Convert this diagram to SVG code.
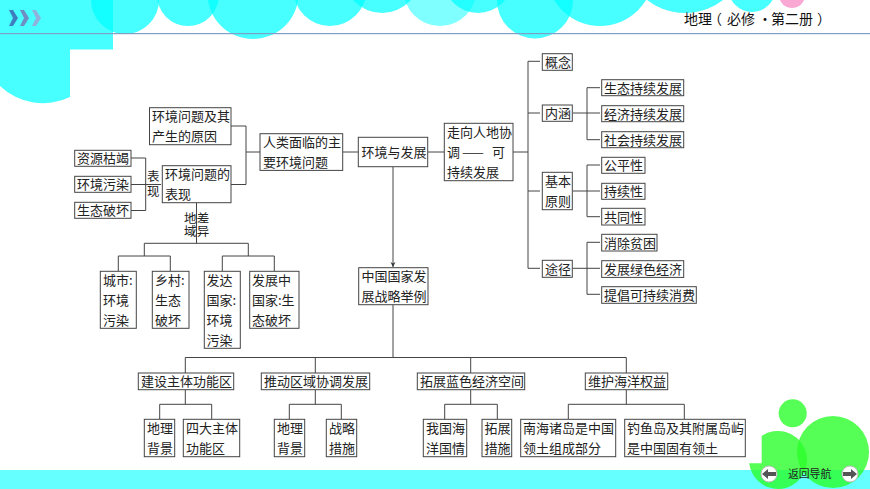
<svg xmlns="http://www.w3.org/2000/svg" width="870" height="489" viewBox="0 0 870 489">
<style>
text{font-family:"Noto Sans CJK SC","Noto Sans",sans-serif;font-size:13px;fill:#222}
.b{fill:#fff;stroke:#444;stroke-width:1}
.c{fill:none;stroke:#444;stroke-width:1}
.t{fill:#00ffff;fill-opacity:.72}
.g{fill:#2aff2a;fill-opacity:.8}
.nav{fill:#fff;stroke:#bbb;stroke-width:1}
.ar{fill:#555}
</style>
<defs>
<marker id="arrow" markerWidth="6" markerHeight="6" refX="5" refY="3" orient="auto" markerUnits="userSpaceOnUse"><path d="M0 0.5L5 3L0 5.5L1.5 3Z" fill="#333"/></marker>
</defs>
<rect width="870" height="489" fill="#fff"/>
<g id="background">
<path class="t" d="M0 0H113V49.5H70V97A62 62 0 0 1 0 86Z"/>
<circle class="t" cx="125" cy="0" r="34"/>
<circle class="t" cx="188" cy="-5" r="31"/>
<circle class="t" cx="253" cy="-6.500" r="45.500"/>
<circle class="t" cx="330" cy="-10.500" r="36.500"/>
<circle class="t" cx="382" cy="-26" r="39"/>
<circle class="t" cx="440" cy="-10.500" r="36.500" style="fill-opacity:.5"/>
<circle class="t" cx="478" cy="-21.500" r="34.500"/>
<circle class="t" cx="535" cy="0.500" r="38"/>
<circle class="t" cx="600" cy="-27.700" r="53.700"/>
<circle class="t" cx="685" cy="-49" r="62"/>
<circle class="t" cx="752" cy="-11.500" r="23.500"/>
<circle cx="792" cy="-5" r="13" fill="#f9a8d4"/>
<rect x="0" y="33" width="870" height="1.200" fill="#7f9fc6"/>
<path d="M9 10H13L18 18L13 26H9L13 18Z" fill="#3f7fc0"/>
<path d="M20 10H24L29 18L24 26H20L24 18Z" fill="#6f8fc4"/>
<path d="M32 10H36L41 18L36 26H32L36 18Z" fill="#8fb2dc"/>
<rect x="0" y="470" width="870" height="19" fill="#66ffff"/>
<circle class="g" cx="792.700" cy="413.300" r="14"/>
<circle class="g" cx="833" cy="452" r="36"/>
<path class="g" d="M761.700 436A29 29 0 1 1 749.200 463.300H761.700Z"/>
<text y="24" x="684 698 708 727 741 758 771 785 799 817" style="font-size:14px;fill:#111">地理（必修·第二册）</text>
</g>
<g id="connectors">
<path class="c" d="M131 158H145.700V210.500H131M131 184.500H161"/>
<path class="c" d="M231 126H246V184.500H231M246 152H260"/>
<path class="c" d="M343 152H358M428 152H444M513 152H528"/>
<path class="c" d="M196.500 203V243.300M144.300 256V243.300H248.300V256M118.300 271V256H170.300V271M222.300 271V256H274.300V271"/>
<path class="c" d="M393 167V267" marker-end="url(#arrow)"/>
<path class="c" d="M393 305V357.500M185.300 373V357.500H626.300V373M315.300 357.500V373M470.700 357.500V373"/>
<path class="c" d="M540 61.300H528V268.300H540M528 113H540M528 191H540"/>
<path class="c" d="M600 87.700H587V139.700H600M573 113H600"/>
<path class="c" d="M600 165H587V216.700H600M573 191H600"/>
<path class="c" d="M600 242.300H587V294.300H600M573 268.300H600"/>
<path class="c" d="M185.300 390V404.300M159.700 419V404.300H211.700V419"/>
<path class="c" d="M315.300 390V404.300M289.300 419V404.300H341.300V419"/>
<path class="c" d="M470.700 390V404.300M444.700 419V404.300H497.300V419"/>
<path class="c" d="M626.300 390V404.300M568.300 419V404.300H684.300V419"/>
</g>
<g id="n-causes"><rect class="b" x="149.500" y="107.700" width="81.500" height="37"/><text x="152" y="120.500">环境问题及其</text><text x="152" y="140.500">产生的原因</text></g>
<g id="n-humans"><rect class="b" x="260" y="133.700" width="82.700" height="36.700"/><text x="263" y="146.500">人类面临的主</text><text x="263" y="166.500">要环境问题</text></g>
<g id="n-res"><rect class="b" x="74.700" y="150.300" width="56.300" height="16"/><text x="77" y="163">资源枯竭</text></g>
<g id="n-pol"><rect class="b" x="74.700" y="176.300" width="56.300" height="16"/><text x="77" y="189">环境污染</text></g>
<g id="n-eco"><rect class="b" x="74.700" y="202.300" width="56.300" height="16"/><text x="77" y="215">生态破坏</text></g>
<g id="n-show"><rect class="b" x="162.300" y="165.700" width="68.700" height="37"/><text x="165" y="179">环境问题的</text><text x="165" y="199">表现</text></g>
<g id="label-show"><text style="font-size:12.500px"><tspan x="147" y="181">表</tspan><tspan x="147" y="196">现</tspan></text></g>
<g id="label-region"><text style="font-size:12.500px"><tspan x="184" y="222.500">地</tspan><tspan x="184" y="235.500">域</tspan><tspan x="196.800" y="222.500">差</tspan><tspan x="196.800" y="235.500">异</tspan></text></g>
<g id="n-city"><rect class="b" x="100.300" y="271.300" width="36" height="57"/><text x="103" y="284.500">城市:</text><text x="103" y="304.500">环境</text><text x="103" y="324.500">污染</text></g>
<g id="n-rural"><rect class="b" x="152.300" y="271.300" width="36.700" height="57"/><text x="155" y="284.500">乡村:</text><text x="155" y="304.500">生态</text><text x="155" y="324.500">破坏</text></g>
<g id="n-dev"><rect class="b" x="204.300" y="271.300" width="36" height="77"/><text x="206.500" y="284.500">发达</text><text x="206.500" y="304.500">国家:</text><text x="206.500" y="324.500">环境</text><text x="206.500" y="344.500">污染</text></g>
<g id="n-devg"><rect class="b" x="249.700" y="271.300" width="49.300" height="57"/><text x="252" y="284.500">发展中</text><text x="252" y="304.500">国家:生</text><text x="252" y="324.500">态破坏</text></g>
<g id="n-env"><rect class="b" x="358.300" y="137.300" width="69.400" height="29.400"/><text x="361.500" y="156.500">环境与发展</text></g>
<g id="n-strategy"><rect class="b" x="358.700" y="267.700" width="69.300" height="37"/><text x="361.500" y="281">中国国家发</text><text x="361.500" y="301">展战略举例</text></g>
<g id="n-sd"><rect class="b" x="444.300" y="123.300" width="68.700" height="57.400"/><text x="447" y="136.500">走向人地协</text><text y="156.500"><tspan x="447">调</tspan><tspan x="462">——</tspan><tspan x="492">可</tspan></text><text x="447" y="176.500">持续发展</text></g>
<g id="n-concept"><rect class="b" x="542.300" y="53.700" width="30" height="16.600"/><text x="545" y="66.500">概念</text></g>
<g id="n-content"><rect class="b" x="542.300" y="105" width="30" height="16.300"/><text x="545" y="118">内涵</text></g>
<g id="n-principle"><rect class="b" x="542.300" y="172.300" width="30" height="37.400"/><text x="545" y="185.500">基本</text><text x="545" y="205.500">原则</text></g>
<g id="n-way"><rect class="b" x="542.300" y="260.300" width="30" height="17"/><text x="545" y="273.500">途径</text></g>
<g id="n-c1"><rect class="b" x="601.700" y="79.700" width="82" height="16"/><text x="604" y="92.500">生态持续发展</text></g>
<g id="n-c2"><rect class="b" x="601.700" y="105.700" width="82" height="16"/><text x="604" y="118.500">经济持续发展</text></g>
<g id="n-c3"><rect class="b" x="601.700" y="131.700" width="82" height="16"/><text x="604" y="144.500">社会持续发展</text></g>
<g id="n-p1"><rect class="b" x="601.700" y="157.300" width="43.300" height="16"/><text x="604" y="170">公平性</text></g>
<g id="n-p2"><rect class="b" x="601.700" y="183.300" width="43.300" height="16"/><text x="604" y="196">持续性</text></g>
<g id="n-p3"><rect class="b" x="601.700" y="208.300" width="43.300" height="16.700"/><text x="604" y="221.500">共同性</text></g>
<g id="n-w1"><rect class="b" x="601.700" y="234.300" width="55.300" height="16.700"/><text x="604" y="247.500">消除贫困</text></g>
<g id="n-w2"><rect class="b" x="601.700" y="260.700" width="82" height="16.700"/><text x="604" y="273.500">发展绿色经济</text></g>
<g id="n-w3"><rect class="b" x="601.700" y="286.700" width="94.600" height="16.600"/><text x="604" y="299.500">提倡可持续消费</text></g>
<g id="n-a"><rect class="b" x="138.300" y="373" width="95.400" height="16.700"/><text x="141" y="386">建设主体功能区</text></g>
<g id="n-b"><rect class="b" x="261.300" y="373" width="108.400" height="16.700"/><text x="264" y="386">推动区域协调发展</text></g>
<g id="n-c"><rect class="b" x="417.300" y="373" width="107.400" height="16.700"/><text x="420" y="386">拓展蓝色经济空间</text></g>
<g id="n-d"><rect class="b" x="585.300" y="373" width="82.400" height="16.700"/><text x="588" y="386">维护海洋权益</text></g>
<g id="n-a1"><rect class="b" x="144.300" y="419.300" width="30.400" height="37.400"/><text x="147" y="432.500">地理</text><text x="147" y="452.500">背景</text></g>
<g id="n-a2"><rect class="b" x="183.300" y="419.300" width="56.400" height="37.400"/><text x="186" y="432.500">四大主体</text><text x="186" y="452.500">功能区</text></g>
<g id="n-b1"><rect class="b" x="274.300" y="419.300" width="30.400" height="37.400"/><text x="277" y="432.500">地理</text><text x="277" y="452.500">背景</text></g>
<g id="n-b2"><rect class="b" x="326.300" y="419.300" width="30.400" height="37.400"/><text x="329" y="432.500">战略</text><text x="329" y="452.500">措施</text></g>
<g id="n-c1b"><rect class="b" x="423.300" y="419.300" width="43.400" height="37.400"/><text x="426" y="432.500">我国海</text><text x="426" y="452.500">洋国情</text></g>
<g id="n-c2b"><rect class="b" x="482" y="419.300" width="29.700" height="37.400"/><text x="484.500" y="432.500">拓展</text><text x="484.500" y="452.500">措施</text></g>
<g id="n-d1"><rect class="b" x="520.700" y="419.300" width="95" height="37.400"/><text x="523" y="432.500">南海诸岛是中国</text><text x="523" y="452.500">领土组成部分</text></g>
<g id="n-d2"><rect class="b" x="624.700" y="419.300" width="120.600" height="37.400"/><text x="627" y="432.500">钓鱼岛及其附属岛屿</text><text x="627" y="452.500">是中国固有领土</text></g>
<g id="nav">
<circle class="nav" cx="769" cy="474" r="8"/>
<path class="ar" d="M762 474L768 469V472H776V476H768V479Z"/>
<circle class="nav" cx="850" cy="474" r="8"/>
<path class="ar" d="M857 474L851 469V472H843V476H851V479Z"/>
<text x="788" y="477.500" style="font-size:10.800px">返回导航</text>
</g>
</svg>
